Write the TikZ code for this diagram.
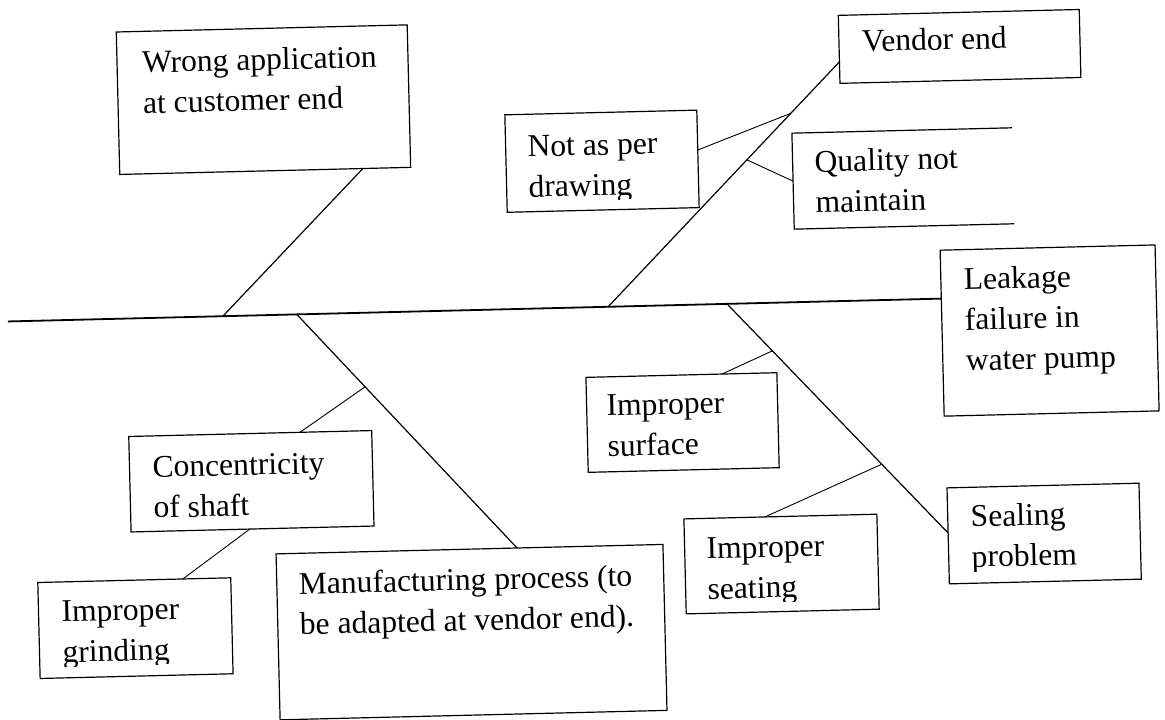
\documentclass[tikz,border=0pt]{standalone}
\usepackage{fontspec}
\setmainfont{Liberation Serif}
\usetikzlibrary{calc}
\begin{document}
\begin{tikzpicture}[x=0.5pt,y=-0.5pt,
  boxline/.style={line width=0.6pt},
  box/.style={draw, boxline, inner sep=0pt, outer sep=0pt},
  openbox/.style={inner sep=0pt, outer sep=0pt},
  txt/.style={inner sep=0pt, outer sep=0pt, align=left, anchor=base west,
              font=\fontsize{15.8}{20.25}\selectfont},
  spine/.style={line width=0.9pt},
  bone/.style={line width=0.6pt},
  twig/.style={line width=0.45pt}]
\useasboundingbox (0,0) rectangle (1165,719);
\begin{scope}[rotate around={1.4:(580,360)}, transform shape]
% boxes
\node[box, minimum width=145.5pt, minimum height=71.25pt] (wrong)   at (269.9,92.0)   {};
\node[box, minimum width=96pt,    minimum height=48.75pt] (notper)  at (606.85,161.8) {};
\node[box, minimum width=120.5pt, minimum height=34pt]    (vendor)  at (967.15,55.76) {};
\node[openbox, minimum width=110pt, minimum height=48pt]  (quality) at (907.4,186.4)  {};
\draw[boxline] (quality.north east) -- (quality.north west) -- (quality.south west) -- (quality.south east);
\node[box, minimum width=107.5pt, minimum height=83pt]    (leak)    at (1050.2,342.0) {};
\node[box, minimum width=95.5pt,  minimum height=47.5pt]  (surface) at (681.0,425.0)  {};
\node[box, minimum width=96.5pt,  minimum height=47.5pt]  (seating) at (776.5,568.9)  {};
\node[box, minimum width=96pt,    minimum height=48pt]    (sealing) at (1039.8,544.8) {};
\node[box, minimum width=121.5pt, minimum height=47.75pt] (conc)    at (248.5,473.2)  {};
\node[box, minimum width=96.5pt,  minimum height=48pt]    (grind)   at (129.0,617.2)  {};
\node[box, minimum width=193.5pt, minimum height=83pt]    (manuf)   at (464.9,629.4)  {};
% texts (anchor = baseline of the last line)
\node[txt] (wrong-t)   at (149.4,102.75) {Wrong application\\at customer end};
\begin{scope}
\clip (510.85,113.05) -- (702.85,113.05) -- (702.85,200) -- (510.85,200) -- cycle;
\node[txt] (notper-t)  at (532.85,196.05){Not as per\\drawing};
\end{scope}
\node[txt] (vendor-t)  at (869.65,58.76) {Vendor end};
\node[txt] (quality-t) at (819.4,218.4)  {Quality not\\maintain};
\node[txt] (leak-t)    at (965.7,380)    {Leakage\\failure in\\water pump};
\node[txt] (surface-t) at (605.5,457)    {Improper\\surface};
\begin{scope}
\clip (680,521.4) -- (873,521.4) -- (873,606.4) -- (680,606.4) -- cycle;
\node[txt] (seating-t) at (702,602.4)    {Improper\\seating};
\end{scope}
\begin{scope}
\clip (943.8,496.8) -- (1135.8,496.8) -- (1135.8,580.8) -- (943.8,580.8) -- cycle;
\node[txt] (sealing-t) at (966.8,576.8)  {Sealing\\problem};
\end{scope}
\node[txt] (conc-t)    at (150,507.45)   {Concentricity\\of shaft};
\begin{scope}
\clip (32.5,569.2) -- (225.5,569.2) -- (225.5,653.7) -- (32.5,653.7) -- cycle;
\node[txt] (grind-t)   at (55.5,649.7)   {Improper\\grinding};
\end{scope}
\node[txt] (manuf-t)   at (293.4,627.9)  {Manufacturing process (to\\be adapted at vendor end).};
% spine
\coordinate (spL) at (9,307.5);
\coordinate (spR) at ($(leak.north west)!0.292!(leak.south west)$);
\draw[spine] (spL) -- (spR);
\coordinate (jW) at (224,307.5);
\coordinate (jM) at (298,307.5);
\coordinate (jV) at (609.4,307.5);
\coordinate (jS) at (728.4,307.5);
% main bones
\draw[bone] (jW) -- ($(wrong.south west)!0.836!(wrong.south east)$);
\coordinate (vP) at ($(vendor.north west)!0.684!(vendor.south west)$);
\draw[bone] (jV) -- (vP);
\coordinate (sP) at ($(sealing.north west)!0.47!(sealing.south west)$);
\draw[bone] (jS) -- (sP);
\coordinate (mP) at ($(manuf.north west)!0.623!(manuf.north east)$);
\draw[bone] (jM) -- (mP);
% sub-causes
\draw[twig] ($(notper.north east)!0.409!(notper.south east)$) -- ($(jV)!0.79!(vP)$);
\draw[twig] ($(jV)!0.6!(vP)$) -- (quality.west);
\draw[twig] ($(jS)!0.205!(sP)$) -- ($(surface.north west)!0.713!(surface.north east)$);
\draw[twig] ($(jS)!0.7!(sP)$) -- ($(seating.north west)!0.42!(seating.north east)$);
\draw[twig] ($(jM)!0.31!(mP)$) -- ($(conc.north west)!0.705!(conc.north east)$);
\draw[twig] ($(conc.south west)!0.489!(conc.south east)$) -- ($(grind.north west)!0.752!(grind.north east)$);
\end{scope}
\end{tikzpicture}
\end{document}
